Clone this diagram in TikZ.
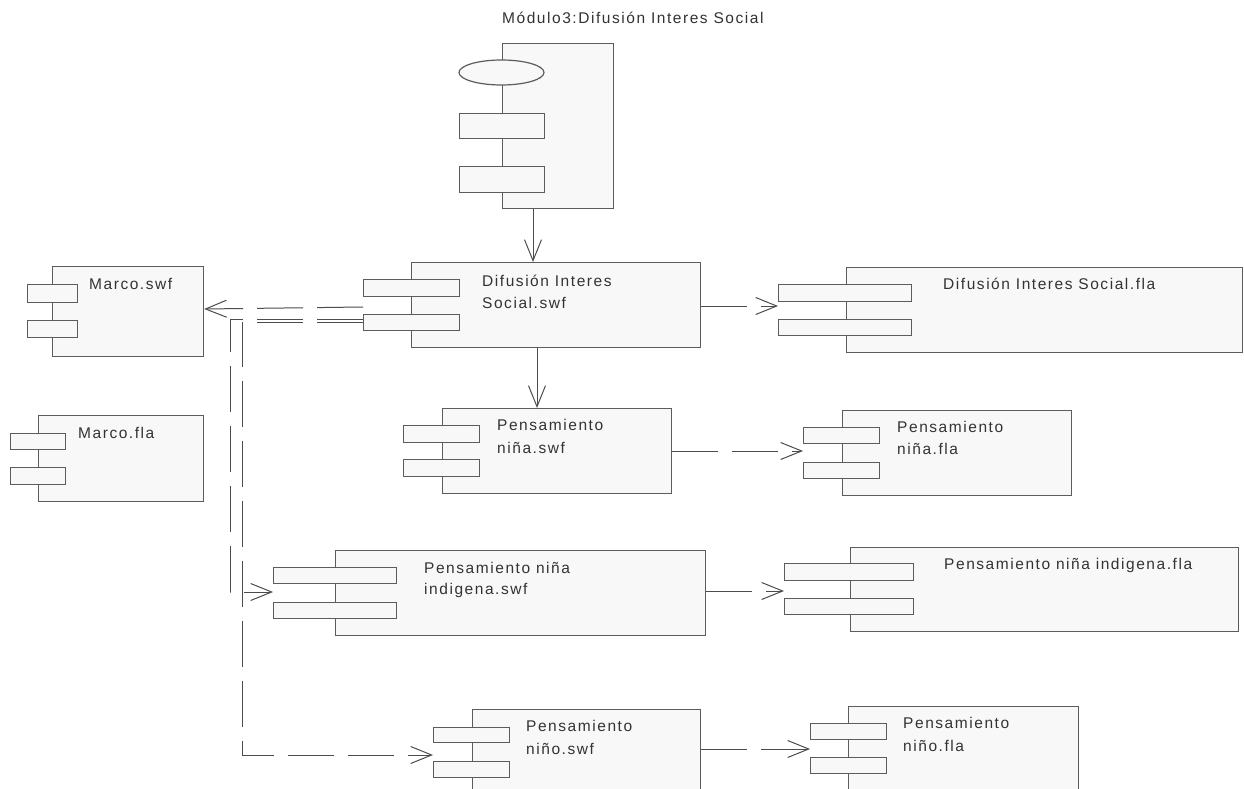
\documentclass[tikz,border=0pt]{standalone}
\usepackage{fontspec}
\setmainfont{Liberation Sans}[LetterSpace=10]
\usetikzlibrary{arrows.meta,shapes.geometric}
\definecolor{edge}{HTML}{5F5B5B}
\definecolor{paper}{HTML}{F8F8F8}
\definecolor{wire}{HTML}{4F4B4B}
\tikzset{
  body/.style={draw=edge, fill=paper, line width=1.2pt, rectangle, anchor=north west, inner sep=0pt},
  port/.style={draw=edge, fill=paper, line width=1.2pt, rectangle, anchor=north west, inner sep=0pt},
  lbl/.style={anchor=base west, inner sep=0pt, text=black!80, font=\fontsize{15.5}{23}\selectfont},
  tip/.style={-{Straight Barb[length=21pt,width=17pt]}},
  uses/.style={tip, draw=wire, line width=1pt},
  dep/.style={uses, dash pattern=on 46pt off 14pt}
}
\begin{document}
\begin{tikzpicture}[x=1pt,y=-1pt]
\useasboundingbox (0,0) rectangle (1244,789);
\clip (0,0) rectangle (1244,789);
\fill[white] (0,0) rectangle (1244,789);

% title
\node[lbl] (title) at (502,24) {Módulo3:Difusión Interes Social};

% subsystem symbol at the top
\node[body, minimum width=111pt, minimum height=165pt] (pkg) at (502,43) {};
\node[draw=edge, fill=paper, line width=1.2pt, ellipse, inner sep=0pt,
      minimum width=85pt, minimum height=25pt] (pkgE) at (501.5,72.5) {};
\node[port, minimum width=85pt, minimum height=25pt] (pkgA) at (459,113) {};
\node[port, minimum width=85pt, minimum height=26pt] (pkgB) at (459,166) {};

% Marco.swf
\node[body, minimum width=151pt, minimum height=90pt] (mswf) at (52,266) {};
\node[port, minimum width=50pt, minimum height=18pt] (mswfA) at (27,284) {};
\node[port, minimum width=50pt, minimum height=17pt] (mswfB) at (27,320) {};
\node[lbl] (mswfT) at (89,289) {Marco.swf};

% Marco.fla
\node[body, minimum width=165pt, minimum height=86pt] (mfla) at (38,415) {};
\node[port, minimum width=55pt, minimum height=16pt] (mflaA) at (10,433) {};
\node[port, minimum width=55pt, minimum height=17pt] (mflaB) at (10,467) {};
\node[lbl] (mflaT) at (78,438) {Marco.fla};

% Difusion Interes Social.swf
\node[body, minimum width=289pt, minimum height=85pt] (dswf) at (411,262) {};
\node[port, minimum width=96pt, minimum height=17pt] (dswfA) at (363,279) {};
\node[port, minimum width=96pt, minimum height=16pt] (dswfB) at (363,314) {};
\node[lbl] (dswfT1) at (482,286) {Difusión Interes};
\node[lbl] (dswfT2) at (482,308) {Social.swf};

% Difusion Interes Social.fla
\node[body, minimum width=396pt, minimum height=85pt] (dfla) at (846,267) {};
\node[port, minimum width=133pt, minimum height=17pt] (dflaA) at (778,284) {};
\node[port, minimum width=133pt, minimum height=16pt] (dflaB) at (778,319) {};
\node[lbl] (dflaT) at (943,289) {Difusión Interes Social.fla};

% Pensamiento nina.swf
\node[body, minimum width=229pt, minimum height=85pt] (nswf) at (442,408) {};
\node[port, minimum width=76pt, minimum height=17pt] (nswfA) at (403,425) {};
\node[port, minimum width=76pt, minimum height=17pt] (nswfB) at (403,459) {};
\node[lbl] (nswfT1) at (497,430) {Pensamiento};
\node[lbl] (nswfT2) at (497,453) {niña.swf};

% Pensamiento nina.fla
\node[body, minimum width=229pt, minimum height=85pt] (nfla) at (842,410) {};
\node[port, minimum width=76pt, minimum height=16pt] (nflaA) at (803,427) {};
\node[port, minimum width=76pt, minimum height=16pt] (nflaB) at (803,462) {};
\node[lbl] (nflaT1) at (897,432) {Pensamiento};
\node[lbl] (nflaT2) at (897,454) {niña.fla};

% Pensamiento nina indigena.swf
\node[body, minimum width=370pt, minimum height=85pt] (iswf) at (335,550) {};
\node[port, minimum width=123pt, minimum height=16pt] (iswfA) at (273,567) {};
\node[port, minimum width=123pt, minimum height=16pt] (iswfB) at (273,602) {};
\node[lbl] (iswfT1) at (424,573) {Pensamiento niña};
\node[lbl] (iswfT2) at (424,594) {indigena.swf};

% Pensamiento nina indigena.fla
\node[body, minimum width=388pt, minimum height=84pt] (ifla) at (850,547) {};
\node[port, minimum width=129pt, minimum height=17pt] (iflaA) at (784,563) {};
\node[port, minimum width=129pt, minimum height=16pt] (iflaB) at (784,598) {};
\node[lbl] (iflaT) at (944,569) {Pensamiento niña indigena.fla};

% Pensamiento nino.swf
\node[body, minimum width=228pt, minimum height=100pt] (oswf) at (472,709) {};
\node[port, minimum width=76pt, minimum height=15pt] (oswfA) at (433,727) {};
\node[port, minimum width=76pt, minimum height=16pt] (oswfB) at (433,761) {};
\node[lbl] (oswfT1) at (526,731) {Pensamiento};
\node[lbl] (oswfT2) at (526,754) {niño.swf};

% Pensamiento nino.fla
\node[body, minimum width=230pt, minimum height=100pt] (ofla) at (848,706) {};
\node[port, minimum width=76pt, minimum height=16pt] (oflaA) at (810,723) {};
\node[port, minimum width=76pt, minimum height=16pt] (oflaB) at (810,757) {};
\node[lbl] (oflaT1) at (903,728) {Pensamiento};
\node[lbl] (oflaT2) at (903,751) {niño.fla};

% connectors
\draw[uses] (533,0 |- pkg.south) -- (533,0 |- dswf.north);
\draw[uses] (537,0 |- dswf.south) -- (537,0 |- nswf.north);
\draw[dep] (dswf.east |- 0,306) -- (dflaA.west |- 0,306);
\draw[dep] (nswf.east |- 0,451) -- (nflaA.west |- 0,451);
\draw[dep] (iswf.east |- 0,591) -- (iflaA.west |- 0,591);
\draw[dep] (oswf.east |- 0,749) -- (oflaA.west |- 0,749);
\draw[dep] (dswfA.west |- 0,307) -- (mswf.east |- 0,309);
\draw[dep] (dswfB.west |- 0,319) -- (230,319) -- (230,592) -- (iswfA.west |- 0,592);
\draw[dep] (dswfB.west |- 0,322) -- (242,322) -- (242,755) -- (oswfA.west |- 0,755);
\end{tikzpicture}
\end{document}
